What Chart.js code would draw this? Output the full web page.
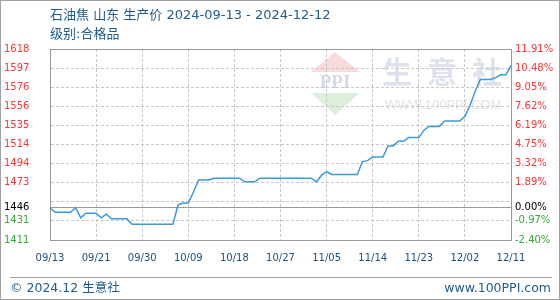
<!DOCTYPE html>
<html>
<head>
<meta charset="utf-8">
<script src="https://cdn.jsdelivr.net/npm/chart.js@4"></script>
<style>
html, body { margin: 0; padding: 0; background: #fff; }
#wrap { position: relative; width: 560px; height: 300px; overflow: hidden; font-family: "DejaVu Sans", "Noto Sans CJK SC", sans-serif; }
#chart { position: absolute; left: 0; top: 0; }
.frame { position: absolute; left: 0; top: 0; width: 558px; height: 298px; border: 1px solid #a0a0a0; pointer-events: none; }
.title { position: absolute; left: 50px; color: #1e5b8c; font-size: 13px; line-height: 16px; white-space: nowrap; }
.sep { position: absolute; left: 10px; top: 277px; width: 542px; height: 0; border-top: 1px solid #a0a0a0; }
.foot { position: absolute; top: 280px; color: #1e5b8c; font-size: 12.5px; line-height: 16px; white-space: nowrap; }
</style>
</head>
<body>
<div id="wrap">
  <canvas id="chart" width="560" height="300"></canvas>
  <div class="title" style="top:7px">石油焦 山东 生产价 2024-09-13 - 2024-12-12</div>
  <div class="title" style="top:26px">级别:合格品</div>
  <div class="sep"></div>
  <div class="foot" style="left:10px">© 2024.12 生意社</div>
  <div class="foot" style="right:9px">www.100PPI.com</div>
  <div class="frame"></div>
</div>
<script>
// daily dates and prices (yuan/ton)
const dates = [
  '09/13','09/14','09/15','09/16','09/17','09/18','09/19','09/20','09/21','09/22',
  '09/23','09/24','09/25','09/26','09/27','09/28','09/29','09/30','10/01','10/02',
  '10/03','10/04','10/05','10/06','10/07','10/08','10/09','10/10','10/11','10/12',
  '10/13','10/14','10/15','10/16','10/17','10/18','10/19','10/20','10/21','10/22',
  '10/23','10/24','10/25','10/26','10/27','10/28','10/29','10/30','10/31','11/01',
  '11/02','11/03','11/04','11/05','11/06','11/07','11/08','11/09','11/10','11/11',
  '11/12','11/13','11/14','11/15','11/16','11/17','11/18','11/19','11/20','11/21',
  '11/22','11/23','11/24','11/25','11/26','11/27','11/28','11/29','11/30','12/01',
  '12/02','12/03','12/04','12/05','12/06','12/07','12/08','12/09','12/10','12/11',
  '12/12'
];
const prices = [
  1446, 1441, 1441, 1441, 1441, 1446, 1435, 1440, 1440, 1440,
  1435, 1439, 1434, 1434, 1434, 1434, 1428, 1428, 1428, 1428,
  1428, 1428, 1428, 1428, 1428, 1449, 1451, 1451, 1463, 1476,
  1476, 1476, 1478, 1478, 1478, 1478, 1478, 1478, 1474, 1474,
  1474, 1478, 1478, 1478, 1478, 1478, 1478, 1478, 1478, 1478,
  1478, 1478, 1474, 1481, 1485, 1482, 1482, 1482, 1482, 1482,
  1482, 1496, 1497, 1501, 1501, 1501, 1513, 1513, 1518, 1518,
  1522, 1522, 1522, 1530, 1534, 1534, 1534, 1540, 1540, 1540,
  1540, 1545, 1557, 1572, 1585, 1585, 1585, 1587, 1590, 1590,
  1600
];

const xTickLabels = ['09/13','09/21','09/30','10/09','10/18','10/27','11/05','11/14','11/23','12/02','12/11'];

const basePrice = 1446;
const yMin = 1411;
const yMax = 1618;
const yTickValues = [1411, 1431.7, 1446, 1452.4, 1473.1, 1493.8, 1514.5, 1535.2, 1555.9, 1576.6, 1597.3, 1618];
const yLeftLabels = ['1411', '1431', '1446', '', '1473', '1494', '1514', '1535', '1556', '1576', '1597', '1618'];
const yRightLabels = ['-2.40%', '-0.97%', '0.00%', '', '1.89%', '3.32%', '4.75%', '6.19%', '7.62%', '9.05%', '10.48%', '11.91%'];

Chart.defaults.font.family = '"DejaVu Sans", sans-serif';
Chart.defaults.font.size = 10;

function tickColor(ctx) {
    const v = ctx.tick ? ctx.tick.value : basePrice;
    if (v === basePrice) return '#000000';
    return v < basePrice ? '#33aa33' : '#ff3333';
}

// faint site logo behind the plot
const watermark = {
    id: 'watermark',
    beforeDraw(chart) {
        const c = chart.ctx;
        c.save();
        c.fillStyle = 'rgba(240,175,175,0.45)';
        c.beginPath(); c.moveTo(335, 52); c.lineTo(360, 72); c.lineTo(311, 72); c.closePath(); c.fill();
        c.fillStyle = 'rgba(165,215,165,0.4)';
        c.beginPath(); c.moveTo(311, 93); c.lineTo(360, 93); c.lineTo(335, 115); c.closePath(); c.fill();
        c.fillStyle = 'rgba(170,180,215,0.5)';
        c.font = 'bold 19px "Liberation Serif", serif';
        c.textAlign = 'center'; c.textBaseline = 'middle';
        c.fillText('PPI', 335, 83);
        c.fillStyle = '#dde2ec';
        c.font = 'bold 30px "Noto Sans CJK SC", sans-serif';
        ['生', '意', '社'].forEach((ch, i) => c.fillText(ch, 397 + i * 45, 72));
        c.fillStyle = '#e2e2e2';
        c.font = '13px "Liberation Sans", sans-serif';
        c.textAlign = 'left';
        c.fillText('WWW.100PPI.COM', 385, 105);
        c.restore();
    }
};

new Chart(document.getElementById('chart'), {
    type: 'line',
    data: {
        labels: dates,
        datasets: [{
            data: prices,
            borderColor: '#3a9ad9',
            borderWidth: 1.5,
            pointRadius: 0,
            fill: false,
            tension: 0
        }]
    },
    options: {
        responsive: false,
        animation: false,
        layout: { padding: { top: 49, left: 4, right: 0, bottom: 0 } },
        plugins: { legend: { display: false }, tooltip: { enabled: false } },
        scales: {
            x: {
                type: 'category',
                position: 'bottom',
                afterBuildTicks: s => { s.ticks = s.ticks.filter(t => t.value % 9 === 0); },
                afterFit: s => { s.height = 60; },
                ticks: {
                    autoSkip: false, maxRotation: 0, padding: 12, color: '#1b4f7e',
                    callback: (v, i) => xTickLabels[i]
                },
                grid: {
                    drawTicks: false,
                    color: ctx => (ctx.tick && (ctx.tick.value === 0 || ctx.tick.value === dates.length - 1)) ? 'rgba(0,0,0,0)' : '#c8c8c8'
                },
                border: { color: '#999999', width: 1, dash: [3, 2] }
            },
            xTop: {
                axis: 'x',
                type: 'linear',
                position: 'top',
                afterFit: s => { s.height = 0; },
                ticks: { display: false },
                grid: { display: false, drawTicks: false },
                border: { color: '#999999', width: 1 }
            },
            y: {
                type: 'linear',
                position: 'left',
                min: yMin, max: yMax,
                afterBuildTicks: s => { s.ticks = yTickValues.map(v => ({ value: v })); },
                afterFit: s => { s.width = 46; },
                ticks: { crossAlign: 'far', color: tickColor, callback: (v, i) => yLeftLabels[i] },
                grid: {
                    drawTicks: false,
                    color: ctx => {
                        const v = ctx.tick ? ctx.tick.value : 0;
                        if (v === yMin || v === yMax) return 'rgba(0,0,0,0)';
                        return v === basePrice ? '#9a9a9a' : '#c8c8c8';
                    }
                },
                border: {
                    color: '#999999', width: 1,
                    dash: ctx => (ctx.tick && ctx.tick.value === basePrice) ? [] : [3, 2]
                }
            },
            y2: {
                type: 'linear',
                position: 'right',
                min: yMin, max: yMax,
                afterBuildTicks: s => { s.ticks = yTickValues.map(v => ({ value: v })); },
                afterFit: s => { s.width = 49; },
                ticks: { padding: 4, color: tickColor, callback: (v, i) => yRightLabels[i] },
                grid: { display: false, drawTicks: false },
                border: { color: '#999999', width: 1 }
            }
        }
    },
    plugins: [watermark]
});
</script>
</body>
</html>
